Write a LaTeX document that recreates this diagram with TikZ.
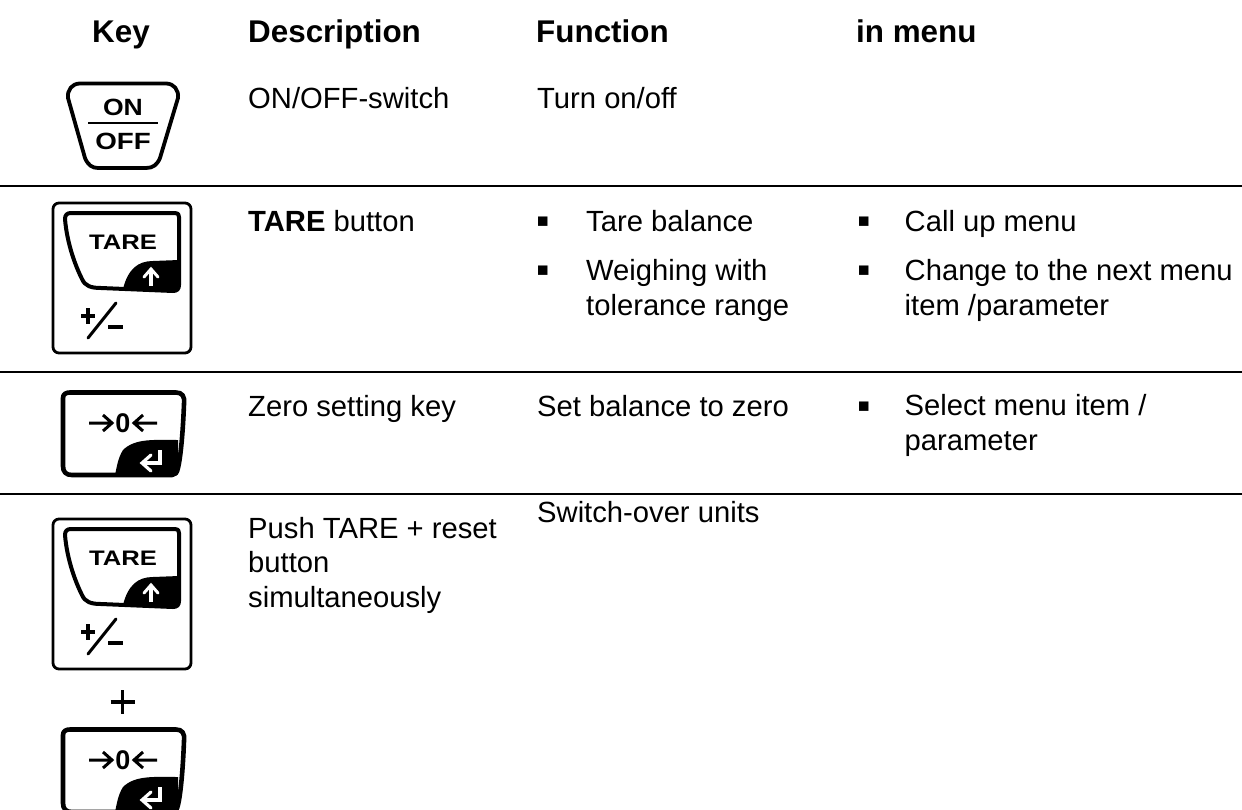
\documentclass[tikz,border=0pt]{standalone}
\usepackage{fontspec}
\setmainfont{Liberation Sans}
\tikzset{
  lbl/.style={anchor=base west,inner sep=0pt,font=\fontsize{29.2}{34.5}\selectfont,align=left},
  bul/.style={anchor=base,inner sep=0pt,font=\fontsize{38}{38}\selectfont,yshift=-2pt},
  hd/.style={anchor=base west,inner sep=0pt,font=\fontsize{31.4}{36}\selectfont\bfseries},
  rule/.style={line width=2pt,black},
  keytxt/.style={inner sep=0pt,font=\bfseries},
  keyline/.style={line width=2.4pt,black,line join=round,line cap=round},
  tarekey/.pic={
    \draw[keyline,rounded corners=6pt,line width=2.8pt] (0,0) rectangle (138,150);
    \fill[black] (126,57) -- (100,58) .. controls (85,58) and (75,66) .. (70,86) -- (122,89) -- (126,84) -- cycle;
    \draw[keyline,line width=4pt] (126,57) -- (126,14) .. controls (126,11) and (125,10) .. (122,10) -- (18,10) .. controls (14,10) and (12,12) .. (12,16) .. controls (14,40) and (22,62) .. (29,76) .. controls (32,83) and (38,85) .. (48,85) -- (120,88) .. controls (124,88) and (126,86) .. (126,82) -- cycle;
    \node[keytxt,font=\fontsize{21}{21}\selectfont\bfseries,xscale=1.22] at (70,39) {TARE};
    \draw[white,line width=4.5pt] (98,83) -- (98,68);
    \draw[white,line width=3pt,line cap=round,line join=miter] (91,74) -- (98,66) -- (105,74);
    \draw[black,line width=3.4pt] (28,113) -- (42,113) (35,105) -- (35,121);
    \draw[black,line width=3pt,line cap=round] (63,100) -- (35,135);
    \draw[black,line width=3.4pt] (55,124) -- (70,124);
  },
  zerokey/.pic={
    \fill[black] (118,50) .. controls (95,50) and (75,48) .. (63,60) .. controls (58,68) and (57,76) .. (55,85) -- (112,85) .. controls (116,85) and (117,80) .. (118,70) -- cycle;
    \draw[keyline,line width=4.6pt] (10,2.5) -- (116,2.5) .. controls (122,2.5) and (125,6) .. (124,14) .. controls (123,40) and (121,65) .. (118,78) .. controls (117,83) and (115,85) .. (112,85) -- (12,85) .. controls (6,85) and (3,82) .. (3,76) -- (3,8) .. controls (3,4) and (6,2.5) .. (10,2.5) -- cycle;
    \node[keytxt,font=\fontsize{27}{27}\selectfont\bfseries] at (63,33) {0};
    \draw[black,line width=3pt,line cap=butt,line join=miter] (29,33) -- (50,33) (43,25) -- (52,33) -- (43,41);
    \draw[black,line width=3pt,line cap=butt,line join=miter] (97,33) -- (76,33) (83,25) -- (74,33) -- (83,41);
    \draw[white,line width=4pt,line join=miter] (100,60) -- (100,73) -- (84,73);
    \draw[white,line width=3.2pt,line cap=round,line join=miter] (91,65) -- (82,73) -- (91,81);
  },
}
\begin{document}
\begin{tikzpicture}[x=1pt,y=-1pt]
\useasboundingbox (0,0) rectangle (1242,809);
\clip (0,0) rectangle (1242,809);
% headers
\node[hd,anchor=base] (hkey) at (121,42) {Key};
\node[hd] (hdesc) at (248,42) {Description};
\node[hd] (hfunc) at (536,42) {Function};
\node[hd] (hmenu) at (856,42) {in menu};
% rules
\draw[rule] (0,186) -- (1242,186);
\draw[rule] (0,372) -- (1242,372);
\draw[rule] (0,494) -- (1242,494);
% row 1
\draw[keyline,line width=3.8pt] (80,83.5) -- (166,83.5) .. controls (174,83.5) and (179,90) .. (178,98) -- (160,158) .. controls (157,165) and (153,168) .. (146,168) -- (98,168) .. controls (92,168) and (88,165) .. (85,158) -- (68,98) .. controls (67,90) and (72,83.5) .. (80,83.5) -- cycle;
\node[keytxt,font=\fontsize{23.5}{23.5}\selectfont\bfseries,xscale=1.13] (on) at (123,107) {ON};
\draw[black,line width=2.6pt] (88,123) -- (158,123);
\node[keytxt,font=\fontsize{23.5}{23.5}\selectfont\bfseries,xscale=1.18] (off) at (123,141) {OFF};
\node[lbl] (d1) at (248,108) {ON/OFF-switch};
\node[lbl] (f1) at (537,108) {Turn on/off};
% row 2
\pic at (53,203) {tarekey};
\node[lbl] (d2) at (248,231) {\textbf{TARE} button};
\node[bul] (b21) at (543,231) {▪};
\node[lbl] (f21) at (586,231) {Tare balance};
\node[bul] (b22) at (543,280) {▪};
\node[lbl] (f22) at (586,315) {Weighing with\\tolerance range};
\node[bul] (b23) at (864,231) {▪};
\node[lbl] (m21) at (904.5,231) {Call up menu};
\node[bul] (b24) at (864,280) {▪};
\node[lbl] (m22) at (904.5,315) {Change to the next menu\\item /parameter};
% row 3
\pic at (60,390) {zerokey};
\node[lbl] (d3) at (248,416) {Zero setting key};
\node[lbl] (f3) at (537,416) {Set balance to zero};
\node[bul] (b3) at (864,416) {▪};
\node[lbl] (m3) at (904.5,450) {Select menu item /\\parameter};
% row 4
\pic at (53,519) {tarekey};
\draw[black,line width=3.6pt] (110.5,702) -- (134.5,702) (122.5,690) -- (122.5,714);
\pic at (60,727) {zerokey};
\node[lbl] (d4) at (248,607) {Push TARE + reset\\button\\simultaneously};
\node[lbl] (f4) at (537,522) {Switch-over units};
\end{tikzpicture}
\end{document}
